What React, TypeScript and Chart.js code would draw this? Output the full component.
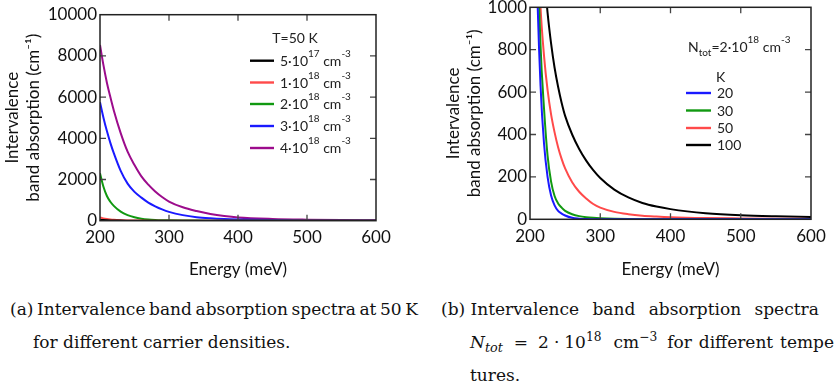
import React, { useEffect, useRef } from "react";
import { Chart, registerables } from "chart.js";

Chart.register(...registerables);

// ---------- Data: (a) T = 50 K, different carrier densities ----------
const energyA = [200, 205, 210, 215, 220, 230, 240, 250, 260, 270, 280, 290, 300, 320, 340, 360, 380, 400, 450, 500, 550, 600];
const densityLabels = ["5·10¹⁷ cm⁻³", "1·10¹⁸ cm⁻³", "2·10¹⁸ cm⁻³", "3·10¹⁸ cm⁻³", "4·10¹⁸ cm⁻³"];
const abs5e17 = [40, 28, 20, 14, 10, 5, 3, 1.5, 1, 0.5, 0.3, 0.2, 0.1, 0, 0, 0, 0, 0, 0, 0, 0, 0];
const abs1e18 = [160, 110, 78, 56, 41, 23, 13, 8, 5, 3, 2, 1.3, 0.9, 0.4, 0.2, 0.1, 0, 0, 0, 0, 0, 0];
const abs2e18 = [2300, 1650, 1200, 920, 720, 440, 270, 165, 100, 62, 40, 26, 17, 8, 4, 2, 1, 0.5, 0.2, 0.1, 0, 0];
const abs3e18 = [5750, 5000, 4350, 3780, 3280, 2420, 1800, 1400, 1120, 880, 700, 550, 430, 270, 170, 115, 80, 60, 28, 14, 8, 5];
const abs4e18 = [8530, 7550, 6700, 6000, 5350, 4250, 3350, 2700, 2150, 1750, 1420, 1150, 930, 650, 470, 330, 230, 160, 85, 50, 30, 20];
const colorsA = ["#000000", "#ff4a4a", "#119911", "#1a1aff", "#9c0c8c"];
const xTicksA = [200, 300, 400, 500, 600];
const yTicksA = [0, 2000, 4000, 6000, 8000, 10000];

// ---------- Data: (b) N_tot = 2·10^18 cm^-3, different temperatures ----------
const energyB = [200, 205, 210, 215, 220, 225, 230, 235, 240, 245, 250, 260, 270, 280, 290, 300, 320, 340, 360, 380, 400, 450, 500, 550, 600];
const tempLabels = ["20", "30", "50", "100"];
const abs20K = [3500, 2000, 1120, 630, 355, 200, 112, 66, 40, 27, 18, 7, 3, 1.2, 0.6, 0.3, 0.1, 0, 0, 0, 0, 0, 0, 0, 0];
const abs30K = [4000, 2400, 1400, 820, 520, 300, 178, 110, 75, 55, 40, 24, 15, 10, 7, 5, 2.5, 1.2, 0.6, 0.3, 0.2, 0.1, 0, 0, 0];
const abs50K = [3000, 2000, 1400, 1000, 770, 610, 495, 410, 340, 285, 240, 175, 130, 98, 72, 55, 35, 24, 17, 13, 10, 6, 4, 2.5, 2];
const abs100K = [2500, 2000, 1650, 1370, 1170, 975, 830, 715, 625, 550, 488, 400, 332, 277, 232, 195, 140, 103, 77, 60, 48, 29, 19, 14, 11];
const colorsB = ["#1a1aff", "#119911", "#ff4a4a", "#000000"];
const xTicksB = [200, 300, 400, 500, 600];
const yTicksB = [0, 200, 400, 600, 800, 1000];

const FONT = "Lato, 'Open Sans', sans-serif";

// ---------- rich text (superscript / subscript) drawing ----------
const SUP = "⁰¹²³⁴⁵⁶⁷⁸⁹⁻";
const SUPN = "0123456789-";
const SUB = "ₜₒ";
const SUBN = "to";

function splitRuns(text: string) {
  const runs: { t: string; k: string; w?: number }[] = [];
  for (const ch of text) {
    let k = "n";
    let c = ch;
    const si = SUP.indexOf(ch);
    const bi = SUB.indexOf(ch);
    if (si >= 0) { k = "sup"; c = SUPN[si]; }
    else if (bi >= 0) { k = "sub"; c = SUBN[bi]; }
    const last = runs[runs.length - 1];
    if (last && last.k === k) last.t += c;
    else runs.push({ t: c, k });
  }
  return runs;
}

function drawRich(ctx: CanvasRenderingContext2D, text: string, x: number, y: number, size: number, align = "left") {
  const runs = splitRuns(text);
  const fontFor = (k: string) => `${k === "n" ? size : Math.round(size * 0.72)}px ${FONT}`;
  let total = 0;
  runs.forEach((r) => { ctx.font = fontFor(r.k); r.w = ctx.measureText(r.t).width; total += r.w; });
  let cx = align === "center" ? x - total / 2 : x;
  ctx.textBaseline = "alphabetic";
  ctx.textAlign = "left";
  runs.forEach((r) => {
    ctx.font = fontFor(r.k);
    const dy = r.k === "sup" ? -size * 0.62 : r.k === "sub" ? size * 0.3 : 0;
    ctx.fillText(r.t, cx, y + dy);
    cx += r.w || 0;
  });
}

// ---------- plugin: boxed frame, inward ticks, in-plot legend ----------
const framePlugin = {
  id: "frameLegend",
  afterDatasetsDraw(chart: any, _args: any, opts: any) {
    const { ctx, chartArea: a, scales } = chart;
    const xs = scales.x;
    const ys = scales.y;
    const L = 6;
    ctx.save();
    ctx.strokeStyle = "#444";
    ctx.lineWidth = 1.3;
    ctx.beginPath();
    xs.ticks.forEach((t: any) => {
      const px = xs.getPixelForValue(t.value);
      if (px <= a.left + 1 || px >= a.right - 1) return;
      ctx.moveTo(px, a.bottom); ctx.lineTo(px, a.bottom - L);
      ctx.moveTo(px, a.top); ctx.lineTo(px, a.top + L);
    });
    ys.ticks.forEach((t: any) => {
      const py = ys.getPixelForValue(t.value);
      if (py <= a.top + 1 || py >= a.bottom - 1) return;
      ctx.moveTo(a.left, py); ctx.lineTo(a.left + L, py);
      ctx.moveTo(a.right, py); ctx.lineTo(a.right - L, py);
    });
    ctx.stroke();
    ctx.strokeStyle = "#222";
    ctx.lineWidth = 1.5;
    ctx.strokeRect(a.left, a.top, a.right - a.left, a.bottom - a.top);

    // legend
    ctx.fillStyle = "#222";
    (opts.titles || []).forEach((t: any) => drawRich(ctx, t.text, t.x, t.y, opts.size, t.align));
    chart.data.datasets.forEach((ds: any, i: number) => {
      const y = opts.rows[i];
      ctx.strokeStyle = ds.borderColor;
      ctx.lineWidth = 2.4;
      ctx.beginPath();
      ctx.moveTo(opts.x0, y);
      ctx.lineTo(opts.x1, y);
      ctx.stroke();
      ctx.fillStyle = "#222";
      drawRich(ctx, ds.label, opts.textX, y + opts.size * 0.36, opts.size);
    });
    ctx.restore();
  },
};

function makeConfig(p: any) {
  return {
    type: "line",
    data: {
      datasets: p.series.map((vals: number[], i: number) => ({
        label: p.labels[i],
        data: p.energy.map((e: number, j: number) => ({ x: e, y: vals[j] })),
        borderColor: p.colors[i],
        backgroundColor: p.colors[i],
        borderWidth: 2,
        pointRadius: 0,
        fill: false,
        cubicInterpolationMode: "monotone",
      })),
    },
    options: {
      responsive: false,
      animation: false,
      events: [],
      layout: { padding: { left: 0, top: p.padTop, right: p.padRight, bottom: 0 } },
      plugins: {
        legend: { display: false },
        tooltip: { enabled: false },
        frameLegend: p.legend,
      },
      scales: {
        x: {
          type: "linear",
          min: 200,
          max: 600,
          afterBuildTicks: (s: any) => { s.ticks = p.xTicks.map((v: number) => ({ value: v })); },
          afterFit: (s: any) => { s.height = p.xHeight; },
          ticks: { font: { family: FONT, size: 17 }, color: "#111", padding: 7, maxRotation: 0, callback: (v: any) => String(v) },
          grid: { display: false, drawTicks: false },
          border: { display: false },
          title: { display: true, text: "Energy (meV)", font: { family: FONT, size: 17 }, color: "#111", padding: { top: 0, bottom: 10 } },
        },
        y: {
          type: "linear",
          min: 0,
          max: p.yMax,
          afterBuildTicks: (s: any) => { s.ticks = p.yTicks.map((v: number) => ({ value: v })); },
          afterFit: (s: any) => { s.width = p.yWidth; },
          ticks: { font: { family: FONT, size: 17 }, color: "#111", padding: 3, callback: (v: any) => String(v) },
          grid: { display: false, drawTicks: false },
          border: { display: false },
          title: {
            display: true,
            text: ["Intervalence", "band absorption (cm⁻¹)"],
            font: { family: FONT, size: 17, lineHeight: 1.25 },
            color: "#111",
            padding: { top: p.yTitlePad, bottom: 0 },
          },
        },
      },
    },
    plugins: [framePlugin],
  };
}

const configA = makeConfig({
  energy: energyA,
  series: [abs5e17, abs1e18, abs2e18, abs3e18, abs4e18],
  labels: densityLabels,
  colors: colorsA,
  xTicks: xTicksA,
  yTicks: yTicksA,
  yMax: 10000,
  padTop: 24.7,
  padRight: 44,
  xHeight: 69.3,
  yWidth: 100,
  yTitlePad: 2,
  legend: {
    size: 14,
    titles: [{ text: "T=50 K", x: 295, y: 53, align: "center" }],
    x0: 250,
    x1: 274,
    textX: 280,
    rows: [70.7, 92.5, 114, 136, 158],
  },
});

const configB = makeConfig({
  energy: energyB,
  series: [abs20K, abs30K, abs50K, abs100K],
  labels: tempLabels,
  colors: colorsB,
  xTicks: xTicksB,
  yTicks: yTicksB,
  yMax: 1000,
  padTop: 17.3,
  padRight: 23,
  xHeight: 70.7,
  yWidth: 110,
  yTitlePad: 22.5,
  legend: {
    size: 14,
    titles: [
      { text: "Nₜₒₜ=2·10¹⁸ cm⁻³", x: 268, y: 62, align: "left" },
      { text: "K", x: 296, y: 92, align: "left" },
    ],
    x0: 266,
    x1: 291,
    textX: 297,
    rows: [103, 120.5, 138, 155],
  },
});

const capStyle: React.CSSProperties = {
  position: "absolute",
  fontFamily: "'DejaVu Serif', serif",
  fontSize: 17,
  lineHeight: "33px",
  color: "#111",
  whiteSpace: "nowrap",
};

const supStyle: React.CSSProperties = { fontSize: "0.72em", lineHeight: 0, verticalAlign: "0.55em" };

export default function App() {
  const refA = useRef<HTMLCanvasElement>(null);
  const refB = useRef<HTMLCanvasElement>(null);

  useEffect(() => {
    const a = new Chart(refA.current as HTMLCanvasElement, configA as any);
    const b = new Chart(refB.current as HTMLCanvasElement, configB as any);
    return () => { a.destroy(); b.destroy(); };
  }, []);

  return (
    <div style={{ position: "absolute", left: 0, top: 0, width: 834, height: 387, overflow: "hidden", background: "#fff" }}>
      <div style={{ position: "absolute", left: 0, top: -10, width: 420, height: 300 }}>
        <canvas ref={refA} width={420} height={300} style={{ display: "block" }} />
      </div>
      <div style={{ position: "absolute", left: 420, top: -10, width: 414, height: 300 }}>
        <canvas ref={refB} width={414} height={300} style={{ display: "block" }} />
      </div>
      <div style={{ ...capStyle, left: 10, top: 293 }}>
        <div style={{ wordSpacing: -1.8 }}>(a) Intervalence band absorption spectra at 50 K</div>
        <div style={{ paddingLeft: 23 }}>for different carrier densities.</div>
      </div>
      <div style={{ ...capStyle, left: 441, top: 293 }}>
        <div>
          (b) <span style={{ wordSpacing: 8 }}>Intervalence band absorption spectra</span>
        </div>
        <div style={{ paddingLeft: 29 }}>
          <i>N</i>
          <sub style={{ fontSize: "0.75em", lineHeight: 0, verticalAlign: "-0.3em" }}><i>tot</i></sub>
          <span style={{ marginLeft: 11 }}>=</span>
          <span style={{ marginLeft: 10 }}>2</span>
          <span style={{ marginLeft: 5 }}>·</span>
          <span style={{ marginLeft: 5 }}>10</span>
          <sup style={supStyle}>18</sup>
          <span style={{ marginLeft: 12 }}>cm</span>
          <sup style={supStyle}>−3</sup>
          <span style={{ marginLeft: 10, wordSpacing: 1.5 }}>for different tempera-</span>
        </div>
        <div style={{ paddingLeft: 29 }}>tures.</div>
      </div>
    </div>
  );
}
